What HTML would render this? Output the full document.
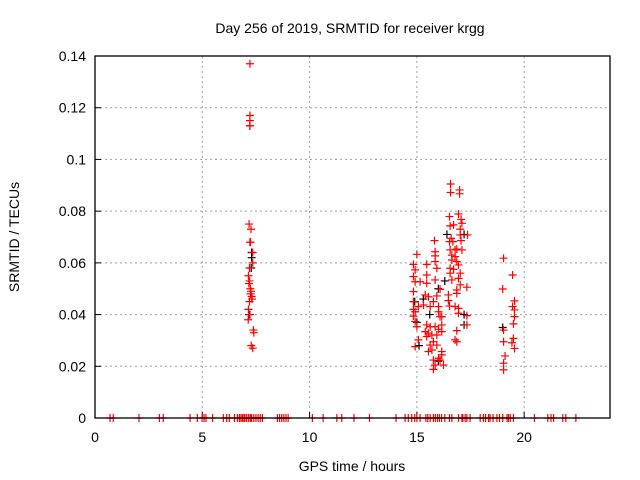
<!DOCTYPE html>
<html><head><meta charset="utf-8"><style>
body{margin:0;background:#fff;}
svg{display:block;font-family:"Liberation Sans",sans-serif;}
</style></head><body>
<svg id="chart" width="640" height="480">
<text x="350" y="33" font-size="14" text-anchor="middle">Day 256 of 2019, SRMTID for receiver krgg</text>
<text x="352" y="471" font-size="14" text-anchor="middle">GPS time / hours</text>
<text transform="translate(19,237) rotate(-90)" font-size="14" text-anchor="middle">SRMTID / TECUs</text>
<g id="grid"></g><g id="axes"></g><g id="black"></g><g id="red"></g>
<rect x="95" y="56" width="515" height="362" fill="none" stroke="#000" stroke-width="1.3"/>
</svg>
<script>
const xTicks=[0,5,10,15,20];
const yTicks=[0,0.02,0.04,0.06,0.08,0.1,0.12,0.14];
const yTickLabels=["0","0.02","0.04","0.06","0.08","0.1","0.12","0.14"];
const zeroHours=[0.70,0.85,2.05,3.0,3.18,4.43,4.77,4.99,5.08,5.17,5.48,5.98,6.14,6.26,6.5,6.64,6.73,6.8,6.87,6.94,6.99,7.07,7.16,7.24,7.3,7.4,7.5,7.6,7.7,7.8,8.5,8.6,8.7,8.8,8.9,9.0,10.13,10.63,11.27,11.5,12.07,12.79,14.03,14.45,14.6,14.76,14.9,15.0,15.15,15.42,15.51,15.62,15.77,15.86,15.96,16.05,16.15,16.3,16.52,16.63,16.94,17.1,17.14,17.25,17.33,17.48,17.95,18.1,18.2,18.34,18.41,18.55,18.73,18.85,19.0,19.2,19.27,19.35,19.5,20.48,21.1,21.25,21.37,21.8,21.94,22.41];
const redHours=[7.22,7.22,7.22,7.22,7.18,7.27,7.22,7.25,7.35,7.35,7.2,7.15,7.2,7.17,7.24,7.27,7.25,7.3,7.32,7.2,7.15,7.22,7.14,7.38,7.4,7.28,7.35,
16.57,16.57,16.99,16.99,16.52,16.94,17.06,17.1,17.02,16.71,16.55,17.36,17.02,16.6,15.82,16.52,16.68,17.06,16.55,16.78,16.86,17.1,15.0,15.85,15.85,16.63,16.78,14.84,15.46,15.85,16.63,16.86,14.92,15.93,16.55,16.71,16.94,15.46,14.84,16.55,17.02,14.92,15.15,15.85,16.63,16.94,15.46,17.02,17.33,14.84,16.08,16.86,15.39,15.54,15.93,16.47,16.86,15.77,16.47,14.84,15.31,15.07,14.84,15.62,16.01,16.52,16.78,16.94,14.92,16.01,16.08,16.94,17.33,14.84,16.16,14.92,15.0,15.46,15.62,15.85,16.01,16.16,16.86,17.33,15.39,15.54,15.70,15.93,15.46,15.07,15.77,16.78,16.86,14.92,15.62,15.93,15.54,15.70,16.16,16.16,16.01,15.77,16.08,16.24,15.85,15.77,16.16,
19.04,19.04,19.04,19.04,19.04,19.46,19.0,19.55,19.46,19.55,19.55,19.5,19.5,19.43,19.55,19.11,19.5];
const redValues=[0.137,0.117,0.115,0.113,0.075,0.073,0.068,0.068,0.064,0.06,0.058,0.055,0.053,0.052,0.05,0.049,0.048,0.047,0.046,0.045,0.042,0.040,0.038,0.034,0.033,0.028,0.027,
0.0905,0.0872,0.0882,0.0867,0.0779,0.0789,0.0768,0.0753,0.073,0.0747,0.0743,0.0708,0.0708,0.0695,0.0686,0.0682,0.0682,0.0686,0.065,0.065,0.0653,0.065,0.0633,0.0643,0.0627,0.063,0.0624,0.0594,0.0594,0.0605,0.0611,0.0605,0.0573,0.0579,0.0579,0.0575,0.0592,0.0553,0.0547,0.056,0.056,0.0527,0.0527,0.0534,0.0534,0.054,0.0521,0.0515,0.0506,0.0489,0.0498,0.0495,0.0476,0.0469,0.0472,0.0476,0.0482,0.045,0.0454,0.045,0.0437,0.0431,0.042,0.0431,0.0431,0.0433,0.0431,0.0424,0.0411,0.0411,0.0392,0.0405,0.0396,0.0394,0.0392,0.0373,0.0353,0.036,0.0353,0.0353,0.0343,0.0334,0.0338,0.036,0.0334,0.0328,0.0321,0.0321,0.0315,0.0302,0.0295,0.0302,0.0295,0.0276,0.0282,0.0282,0.0257,0.0263,0.0257,0.0244,0.0231,0.0224,0.0224,0.0205,0.0205,0.0188,
0.036,0.034,0.0295,0.0212,0.0186,0.0618,0.0553,0.0499,0.0453,0.0431,0.0418,0.0392,0.0364,0.0308,0.0291,0.0269,0.024];
const blackHours=[7.22,7.3,7.3,7.28,7.18,14.9,15.0,15.1,16.4,17.2,17.2,17.2,15.6,16.0,19.0,16.0,15.3,16.3];
const blackValues=[0.113,0.064,0.062,0.058,0.040,0.045,0.037,0.028,0.071,0.071,0.040,0.036,0.040,0.050,0.035,0.022,0.046,0.053];

const NS="http://www.w3.org/2000/svg";
const X0=95,X1=610,Y0=418,Y1=56,XMAX=24,YMAX=0.14;
const sx=h=>X0+h/XMAX*(X1-X0);
const sy=v=>Y0-v/YMAX*(Y0-Y1);
function mk(tag,attrs,parent){const e=document.createElementNS(NS,tag);for(const k in attrs)e.setAttribute(k,attrs[k]);document.getElementById(parent).appendChild(e);return e;}
xTicks.forEach(t=>{
  const x=sx(t);
  if(t>0){const g=mk('line',{x1:x,x2:x,y1:Y0,y2:Y1,stroke:'#a0a0a0','stroke-dasharray':'2,3'},'grid');
  
  }
  const tk=mk('line',{x1:x,x2:x,y1:Y0,y2:Y0-6,stroke:'#000'},'axes');
  
  
  const lb=mk('text',{x:x,y:Y0+24,'font-size':14,'text-anchor':'middle'},'axes');lb.textContent=t;
  
  
});
yTicks.forEach((t,i)=>{
  const y=sy(t);
  if(t>0&&t<YMAX){const g=mk('line',{x1:X0,x2:X1,y1:y,y2:y,stroke:'#a0a0a0','stroke-dasharray':'2,3'},'grid');
  
  }
  const tk=mk('line',{x1:X0,x2:X0+6,y1:y,y2:y,stroke:'#000'},'axes');
  
  
  const lb=mk('text',{x:X0-9,y:y+5,'font-size':14,'text-anchor':'end'},'axes');lb.textContent=yTickLabels[i];
  
  
});
function plus(h,v,color,parent,name){
  const x=sx(h),y=sy(v);
  const p=mk('path',{d:`M${x-4},${y}H${x+4}M${x},${y-4}V${y+4}`,stroke:color,'stroke-width':1.2,fill:'none'},parent);
  
  
}
blackHours.forEach((h,i)=>plus(h,blackValues[i],'#000','black','black-point'));
zeroHours.forEach(h=>plus(h,0,'#ff0000','red','zero-point'));
redHours.forEach((h,i)=>plus(h,redValues[i],'#ff0000','red','red-point'));
</script>
</body></html>
